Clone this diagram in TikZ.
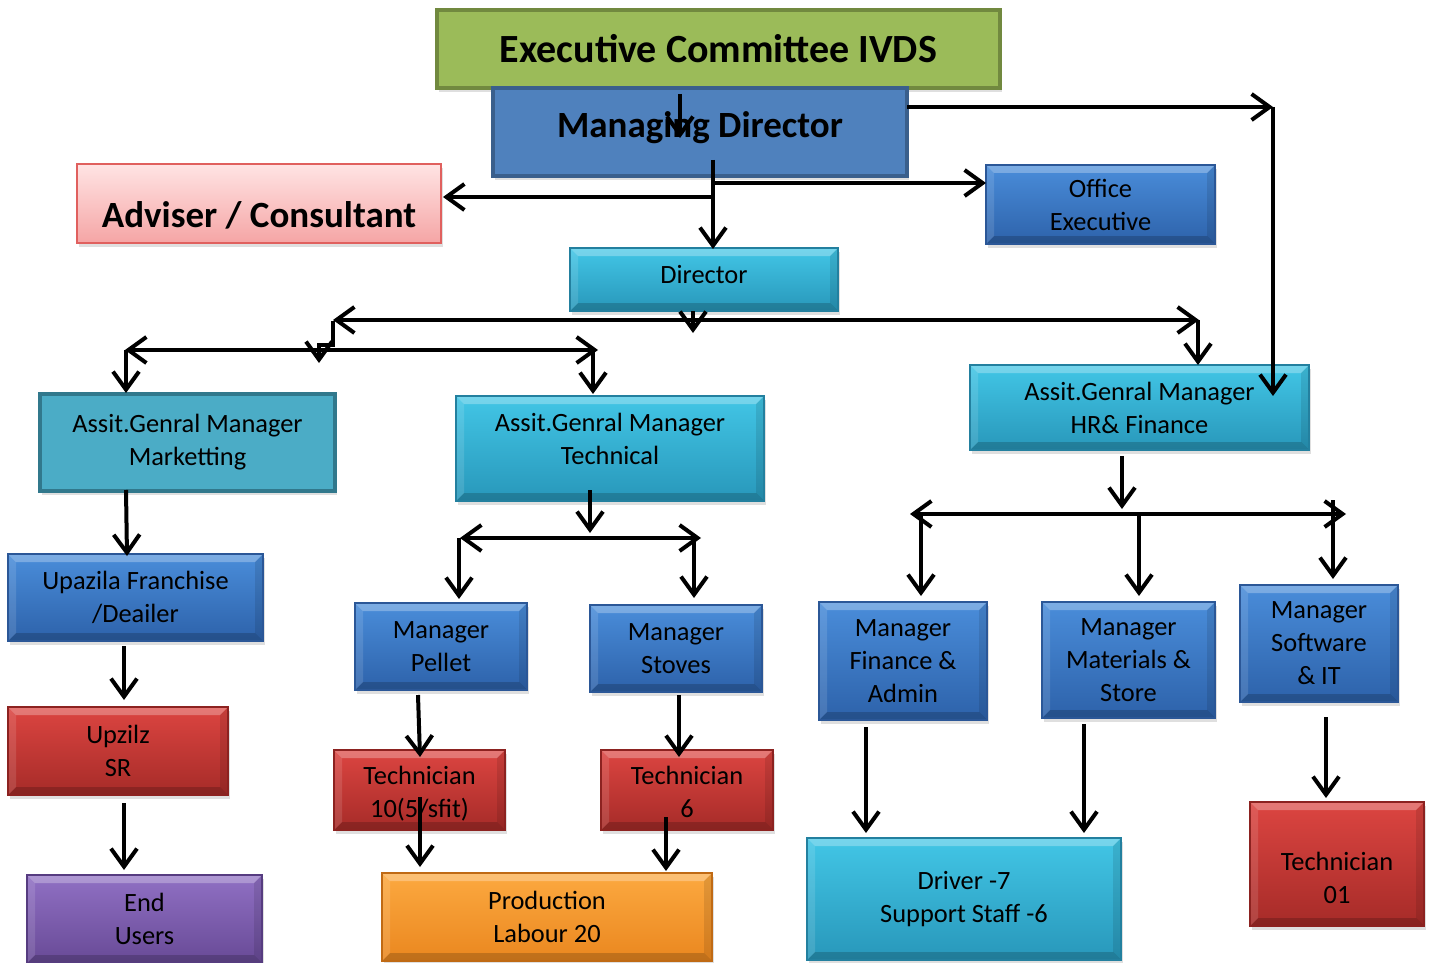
\documentclass[tikz,border=0pt]{standalone}
\usepackage{fontspec}
\setmainfont{Carlito}
\usetikzlibrary{arrows.meta,shadows}
\definecolor{grF}{HTML}{9BBB59}\definecolor{grD}{HTML}{71893F}
\definecolor{mdF}{HTML}{4F81BD}\definecolor{mdD}{HTML}{3A5F8C}
\definecolor{pkT}{HTML}{FFE4E4}\definecolor{pkB}{HTML}{F5A5A5}\definecolor{pkD}{HTML}{E0605E}
\definecolor{blT}{HTML}{4A8DDA}\definecolor{blB}{HTML}{2D62AA}\definecolor{blD}{HTML}{2B5797}
\definecolor{cyT}{HTML}{42C6E6}\definecolor{cyB}{HTML}{2897BA}\definecolor{cyD}{HTML}{23809F}
\definecolor{mkF}{HTML}{4BACC6}\definecolor{mkD}{HTML}{31788C}
\definecolor{rdT}{HTML}{DC4541}\definecolor{rdB}{HTML}{A62B28}\definecolor{rdD}{HTML}{8C2220}
\definecolor{puT}{HTML}{9070C4}\definecolor{puB}{HTML}{684A96}\definecolor{puD}{HTML}{563C80}
\definecolor{orT}{HTML}{FCA940}\definecolor{orB}{HTML}{EA871F}\definecolor{orD}{HTML}{C06A14}
\newcommand\orgbox[7]{\node[#1, minimum width={(#5-#3)*0.5pt}, minimum height={(#6-#4)*0.5pt}] (#2) at ({(#3+#5)/2},{(#4+#6)/2}) {#7};}
\newcommand\shifted[2]{\raisebox{#1}[\height][\depth]{\begin{tabular}{@{}c@{}}#2\end{tabular}}}
\begin{document}
\begin{tikzpicture}[x=0.5pt,y=-0.5pt,
  box/.style={draw, inner sep=0pt, outer sep=0pt, align=center,
    font=\fontsize{13.2}{16.5}\selectfont, line width=0.6pt,
    drop shadow={shadow xshift=1.2pt, shadow yshift=-1.8pt, opacity=0.25}},
  bevel/.style={path picture={
    \fill[white,opacity=0.28] (path picture bounding box.north west) -- (path picture bounding box.north east)
      -- ([shift={(-4pt,-4pt)}]path picture bounding box.north east) -- ([shift={(4pt,-4pt)}]path picture bounding box.north west) -- cycle;
    \fill[black,opacity=0.18] (path picture bounding box.south west) -- (path picture bounding box.south east)
      -- ([shift={(-4pt,4pt)}]path picture bounding box.south east) -- ([shift={(4pt,4pt)}]path picture bounding box.south west) -- cycle;
    \fill[white,opacity=0.12] (path picture bounding box.north west) -- ([shift={(4pt,-4pt)}]path picture bounding box.north west)
      -- ([shift={(4pt,4pt)}]path picture bounding box.south west) -- (path picture bounding box.south west) -- cycle;
    \fill[black,opacity=0.1] (path picture bounding box.north east) -- ([shift={(-4pt,-4pt)}]path picture bounding box.north east)
      -- ([shift={(-4pt,4pt)}]path picture bounding box.south east) -- (path picture bounding box.south east) -- cycle;}},
  greenbox/.style={box, fill=grF, draw=grD, line width=1.6pt},
  mdbox/.style={box, fill=mdF, draw=mdD, line width=1.6pt},
  pinkbox/.style={box, top color=pkT, bottom color=pkB, draw=pkD, line width=1pt},
  bluebox/.style={box, bevel, top color=blT, bottom color=blB, draw=blD},
  cyanbox/.style={box, bevel, top color=cyT, bottom color=cyB, draw=cyD},
  mktbox/.style={box, fill=mkF, draw=mkD, line width=1.6pt},
  redbox/.style={box, bevel, top color=rdT, bottom color=rdB, draw=rdD},
  purplebox/.style={box, bevel, top color=puT, bottom color=puB, draw=puD},
  orangebox/.style={box, bevel, top color=orT, bottom color=orB, draw=orD},
  arr/.style={line width=2pt, -{Straight Barb[length=9pt,width=13pt]}},
  darr/.style={line width=2pt, {Straight Barb[length=9pt,width=13pt]}-{Straight Barb[length=9pt,width=13pt]}}
]
\useasboundingbox (0,0) rectangle (1431,963);
\fill[white] (0,0) rectangle (1431,963);

% boxes
\orgbox{greenbox}{exec}{437}{10}{1000}{88}{\fontsize{20}{22}\selectfont\bfseries Executive Committee IVDS}
\orgbox{mdbox}{mdir}{493}{88}{907}{176}{\fontsize{18.5}{22}\selectfont\bfseries\shifted{1.5pt}{Managing Director}}
\orgbox{pinkbox}{advis}{77}{164}{441}{243}{\fontsize{18.5}{22}\selectfont\bfseries\shifted{-7.5pt}{Adviser / Consultant}}
\orgbox{bluebox}{office}{986}{165}{1215}{244}{\shifted{-1.5pt}{Office\\Executive}}
\orgbox{cyanbox}{dir}{570}{248}{838}{311}{\shifted{1.5pt}{Director}}
\orgbox{mktbox}{agmm}{40}{394}{335}{491}{Assit.Genral Manager\\Marketting}
\orgbox{cyanbox}{agmt}{456}{396}{764}{501}{\shifted{3.5pt}{Assit.Genral Manager\\Technical}}
\orgbox{cyanbox}{agmh}{970}{365}{1309}{450}{Assit.Genral Manager\\HR\& Finance}
\orgbox{bluebox}{upaz}{8}{554}{263}{641}{Upazila Franchise\\/Deailer}
\orgbox{bluebox}{pellet}{355}{603}{527}{690}{Manager\\Pellet}
\orgbox{bluebox}{stoves}{590}{605}{762}{692}{Manager\\Stoves}
\orgbox{bluebox}{finance}{819}{602}{987}{720}{Manager\\Finance \&\\Admin}
\orgbox{bluebox}{mater}{1042}{602}{1215}{718}{Manager\\Materials \&\\Store}
\orgbox{bluebox}{soft}{1240}{585}{1398}{702}{Manager\\Software\\\& IT}
\orgbox{redbox}{sr}{8}{707}{228}{795}{Upzilz\\SR}
\orgbox{redbox}{techten}{334}{750}{505}{830}{\shifted{-2pt}{Technician\\10(5/sfit)}}
\orgbox{redbox}{techsix}{601}{750}{773}{830}{\shifted{-2pt}{Technician\\6}}
\orgbox{purplebox}{endu}{27}{875}{262}{963}{End\\Users}
\orgbox{orangebox}{prod}{382}{873}{712}{961}{Production\\Labour 20}
\orgbox{cyanbox}{driver}{807}{838}{1121}{960}{Driver -7\\Support Staff -6}
\orgbox{redbox}{techone}{1250}{802}{1424}{926}{\shifted{-8pt}{Technician\\01}}

% junction coordinates
\coordinate (c1a) at (680,94);   \coordinate (c1b) at (680,138);
\coordinate (c2a) at (907,107);  \coordinate (c2b) at (1273,107);
\coordinate (c3b) at (1273,396);
\coordinate (c4a) at (713,160);  \coordinate (c4b) at (713,249);
\coordinate (c5a) at (713,197);  \coordinate (c5b) at (443,197);
\coordinate (c6a) at (713,183);  \coordinate (c6b) at (986,183);
\coordinate (c7a) at (693,311);  \coordinate (c7b) at (693,333);
\coordinate (c8a) at (333,320);  \coordinate (c8b) at (1199,320);
\coordinate (c9a) at (1198,320); \coordinate (c9b) at (1198,365);
\coordinate (h1) at (333,321);   \coordinate (h2) at (333,345);
\coordinate (h3) at (319,345);   \coordinate (h4) at (319,363);
\coordinate (c11a) at (125,350); \coordinate (c11b) at (598,350);
\coordinate (c12a) at (126,350); \coordinate (c12b) at (126,393);
\coordinate (c13a) at (593,350); \coordinate (c13b) at (593,394);
\coordinate (c14a) at (126,490); \coordinate (c14b) at (127,556);
\coordinate (c15a) at (590,490); \coordinate (c15b) at (590,533);
\coordinate (c16a) at (460,538); \coordinate (c16b) at (701,538);
\coordinate (c17a) at (459,538); \coordinate (c17b) at (459,599);
\coordinate (c18a) at (694,538); \coordinate (c18b) at (694,598);
\coordinate (c19a) at (418,695); \coordinate (c19b) at (420,757);
\coordinate (c20a) at (679,695); \coordinate (c20b) at (679,757);
\coordinate (c21a) at (420,797); \coordinate (c21b) at (420,867);
\coordinate (c22a) at (666,817); \coordinate (c22b) at (666,871);
\coordinate (c23a) at (124,646); \coordinate (c23b) at (124,700);
\coordinate (c24a) at (124,803); \coordinate (c24b) at (124,870);
\coordinate (c25a) at (1122,456);\coordinate (c25b) at (1122,509);
\coordinate (c26a) at (910,514); \coordinate (c26b) at (1346,514);
\coordinate (c27a) at (921,514); \coordinate (c27b) at (921,596);
\coordinate (c28a) at (1139,516);\coordinate (c28b) at (1139,596);
\coordinate (c29a) at (1333,500);\coordinate (c29b) at (1333,579);
\coordinate (c30a) at (866,727); \coordinate (c30b) at (866,833);
\coordinate (c31a) at (1084,724);\coordinate (c31b) at (1084,833);
\coordinate (c32a) at (1326,717);\coordinate (c32b) at (1326,798);

% connectors
\draw[arr] (c1a) -- (c1b);
\draw[arr] (c2a) -- (c2b);
\draw[arr] (c2b) -- (c3b);
\draw[arr] (c4a) -- (c4b);
\draw[arr] (c5a) -- (c5b);
\draw[arr] (c6a) -- (c6b);
\draw[arr] (c7a) -- (c7b);
\draw[darr] (c8a) -- (c8b);
\draw[arr] (c9a) -- (c9b);
\draw[arr] (h1) -- (h2) -- (h3) -- (h4);
\draw[darr] (c11a) -- (c11b);
\draw[arr] (c12a) -- (c12b);
\draw[arr] (c13a) -- (c13b);
\draw[arr] (c14a) -- (c14b);
\draw[arr] (c15a) -- (c15b);
\draw[darr] (c16a) -- (c16b);
\draw[arr] (c17a) -- (c17b);
\draw[arr] (c18a) -- (c18b);
\draw[arr] (c19a) -- (c19b);
\draw[arr] (c20a) -- (c20b);
\draw[arr] (c21a) -- (c21b);
\draw[arr] (c22a) -- (c22b);
\draw[arr] (c23a) -- (c23b);
\draw[arr] (c24a) -- (c24b);
\draw[arr] (c25a) -- (c25b);
\draw[darr] (c26a) -- (c26b);
\draw[arr] (c27a) -- (c27b);
\draw[arr] (c28a) -- (c28b);
\draw[arr] (c29a) -- (c29b);
\draw[arr] (c30a) -- (c30b);
\draw[arr] (c31a) -- (c31b);
\draw[arr] (c32a) -- (c32b);
\end{tikzpicture}
\end{document}
